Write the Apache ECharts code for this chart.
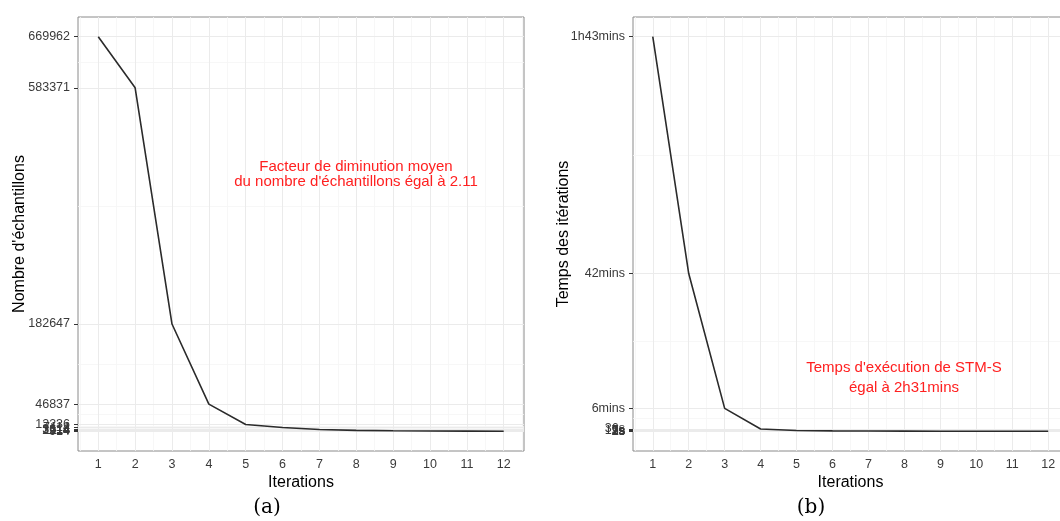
<!DOCTYPE html>
<html>
<head>
<meta charset="utf-8">
<script src="https://cdn.jsdelivr.net/npm/echarts@6/dist/echarts.min.js"></script>
<style>
html,body{margin:0;padding:0;background:#fff;overflow:hidden;}
#chart{width:1060px;height:521px;}
</style>
</head>
<body>
<div id="chart"></div>
<script>
// ---- data ----
const iterations = [1, 2, 3, 4, 5, 6, 7, 8, 9, 10, 11, 12];
const samples = [669962, 583371, 182647, 46837, 12236, 7114, 3614, 2214, 1514, 1114, 914, 714];
const sampleTickLabels = ["669962", "583371", "182647", "46837", "12236", "7114", "3614", "2214", "1514", "1114", "914", "714"];
const timeMinutes = [103.3, 41.3, 6.0, 0.6, 0.2, 0.12, 0.08, 0.05, 0.04, 0.03, 0.02, 0.0154];
const timeTickLabels = ["1h43mins", "42mins", "6mins", "36s", "12s", "7s", "5s", "3s", "2s", "2s", "1s", "0.925s"];
const noteA = ["Facteur de diminution moyen", "du nombre d'échantillons égal à 2.11"];
const noteB = ["Temps d'exécution de STM-S", "égal à 2h31mins"];

// ---- helpers ----
function expandRange(vals) {
  const mn = Math.min(...vals), mx = Math.max(...vals), r = mx - mn;
  return [mn - 0.05 * r, mx + 0.05 * r];
}
function minorBetween(vals) {
  const s = [...vals].sort((a, b) => a - b), out = [];
  for (let i = 0; i < s.length - 1; i++) out.push((s[i] + s[i + 1]) / 2);
  return out;
}
const tickFont = {color: '#3a3a3a', fontSize: 12.5, fontFamily: 'Liberation Sans'};
const titleFont = {color: '#000', fontSize: 16, fontFamily: 'Liberation Sans'};
const xMinor = [];
for (let i = 0; i <= iterations.length; i++) xMinor.push(i + 0.5);

function xAxisFor(gi) {
  return {
    type: 'value', gridIndex: gi, min: 0.45, max: 12.55,
    name: 'Iterations', nameLocation: 'middle', nameGap: 24, nameTextStyle: titleFont, nameMoveOverlap: false,
    axisLine: {show: false},
    axisTick: {show: true, length: 4, customValues: iterations, lineStyle: {color: '#333', width: 1}},
    axisLabel: Object.assign({customValues: iterations, margin: 7}, tickFont),
    splitLine: {show: false}
  };
}
function yAxisFor(gi, vals, labels, title, gap) {
  const r = expandRange(vals);
  return {
    type: 'value', gridIndex: gi, min: r[0], max: r[1],
    name: title, nameLocation: 'middle', nameGap: gap, nameTextStyle: titleFont, nameMoveOverlap: false,
    axisLine: {show: false},
    axisTick: {show: true, length: 4, customValues: vals, lineStyle: {color: '#333', width: 1}},
    axisLabel: Object.assign({
      customValues: vals, margin: 8,
      formatter: function (v) { const i = vals.indexOf(v); return i >= 0 ? labels[i] : ''; }
    }, tickFont),
    splitLine: {show: false}
  };
}
function gridSeries(gi, vals) {
  const d = [];
  const minor = {color: '#f5f5f5', width: 0.8, type: 'solid'};
  const major = {color: '#ebebeb', width: 1, type: 'solid'};
  xMinor.forEach(v => d.push({xAxis: v, lineStyle: minor}));
  minorBetween(vals).forEach(v => d.push({yAxis: v, lineStyle: minor}));
  iterations.forEach(v => d.push({xAxis: v, lineStyle: major}));
  vals.forEach(v => d.push({yAxis: v, lineStyle: major}));
  return {
    type: 'line', xAxisIndex: gi, yAxisIndex: gi, data: [], z: 1, silent: true,
    markLine: {silent: true, symbol: 'none', label: {show: false}, lineStyle: {type: 'solid'}, data: d, animation: false}
  };
}
function lineSeries(gi, vals) {
  return {
    type: 'line', xAxisIndex: gi, yAxisIndex: gi, z: 5,
    data: iterations.map((x, i) => [x, vals[i]]),
    showSymbol: false, symbol: 'none',
    lineStyle: {color: '#2b2b2b', width: 1.6}
  };
}

const chart = echarts.init(document.getElementById('chart'), null, {renderer: 'canvas'});
chart.setOption({
  animation: false,
  backgroundColor: '#fff',
  grid: [
    {left: 78, top: 17, width: 446, height: 434, show: true, borderColor: '#8a8a8a', borderWidth: 1, backgroundColor: '#fff', outerBoundsMode: 'none', containLabel: false},
    {left: 633, top: 17, width: 435, height: 434, show: true, borderColor: '#8a8a8a', borderWidth: 1, backgroundColor: '#fff', outerBoundsMode: 'none', containLabel: false}
  ],
  xAxis: [xAxisFor(0), xAxisFor(1)],
  yAxis: [
    yAxisFor(0, samples, sampleTickLabels, "Nombre d'échantillons", 50),
    yAxisFor(1, timeMinutes, timeTickLabels, "Temps des itérations", 61)
  ],
  series: [gridSeries(0, samples), gridSeries(1, timeMinutes), lineSeries(0, samples), lineSeries(1, timeMinutes)],
  graphic: [
    {type: 'text', x: 356, y: 174, z: 10, style: {text: noteA.join('\n'), align: 'center', verticalAlign: 'middle', fill: '#ff2020', font: '15px "Liberation Sans"', lineHeight: 15}},
    {type: 'text', x: 904, y: 378, z: 10, style: {text: noteB.join('\n'), align: 'center', verticalAlign: 'middle', fill: '#ff2020', font: '15px "Liberation Sans"', lineHeight: 20}},
    {type: 'text', x: 267, y: 508, style: {text: '(a)', align: 'center', verticalAlign: 'middle', fill: '#000', font: '20px "DejaVu Serif"'}},
    {type: 'text', x: 811, y: 508, style: {text: '(b)', align: 'center', verticalAlign: 'middle', fill: '#000', font: '20px "DejaVu Serif"'}}
  ]
});
</script>
</body>
</html>
